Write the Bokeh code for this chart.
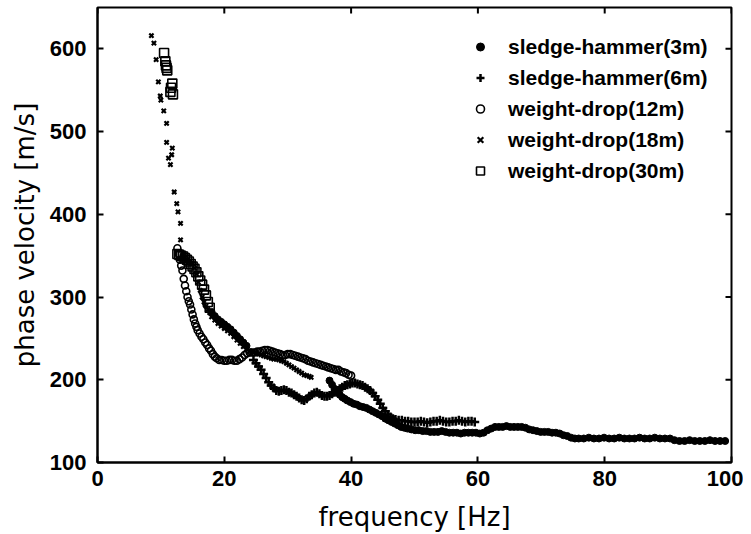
import math
from bokeh.plotting import figure
from bokeh.models import Legend, LegendItem, FixedTicker, Range1d
from bokeh.embed import file_html
from bokeh.resources import INLINE

# ---------------- data ----------------
x_ticks = [0, 20, 40, 60, 80, 100]
y_ticks = [100, 200, 300, 400, 500, 600]
x_lim = [0, 100]
y_lim = [100, 650]

labels = ["sledge-hammer(3m)", "sledge-hammer(6m)", "weight-drop(12m)",
          "weight-drop(18m)", "weight-drop(30m)"]

sh3_f = [18.0, 18.5, 19.0, 19.5, 20.0, 20.5, 21.0, 21.5, 22.0, 22.5, 23.0, 23.5,
         36.6, 37.0, 37.4, 37.8, 38.2, 38.6, 39.0, 39.4, 39.9, 40.4, 40.9, 41.4, 41.9, 42.4,
         42.9, 43.4, 43.9, 44.4, 44.9, 45.4, 45.9, 46.4, 46.9, 47.4, 47.9, 48.4, 48.9, 49.5,
         50.1, 50.7, 51.3, 51.9, 52.5, 53.1, 53.7, 54.3, 54.9, 55.5, 56.1, 56.7, 57.3, 57.9,
         58.5, 59.1, 59.7, 60.3, 60.9, 61.5, 62.1, 62.7, 63.3, 63.9, 64.5, 65.1, 65.7, 66.3,
         66.9, 67.5, 68.1, 68.7, 69.3, 69.9, 70.5, 71.1, 71.7, 72.3, 72.9, 73.5, 74.1, 74.7,
         75.3, 75.9, 76.7, 77.5, 78.3, 79.1, 79.9, 80.7, 81.5, 82.3, 83.1, 83.9, 84.7, 85.5,
         86.3, 87.1, 87.9, 88.7, 89.5, 90.3, 91.0, 91.8, 92.6, 93.4, 94.2, 95.0, 95.8, 96.6,
         97.4, 98.2, 99.0]
sh3_v = [282, 277, 273, 270, 267, 264, 261, 257, 253, 249, 245, 241,
         199, 194, 189, 185, 182, 179, 177, 175, 173, 171, 170, 168, 167, 166,
         164, 162, 160, 158, 156, 153, 151, 149, 147, 145, 143, 142, 141, 140,
         139, 139, 138, 138, 137, 137, 137, 138, 137, 136, 136, 136, 135, 136,
         136, 136, 136, 135, 136, 139, 141, 143, 143, 143, 144, 143, 143, 143,
         143, 142, 140, 139, 138, 137, 137, 137, 136, 136, 135, 133, 132, 130,
         129, 129, 129, 130, 129, 129, 130, 129, 129, 130, 129, 129, 129, 130,
         129, 129, 130, 129, 129, 129, 127, 126, 126, 127, 126, 126, 126, 127,
         126, 126, 126]

sh6_f = [24.6, 25.0, 25.4, 25.8, 26.2, 26.6, 27.0, 27.4, 27.8, 28.2, 28.6, 29.0, 29.4, 29.8,
         30.2, 30.6, 31.0, 31.4, 31.8, 32.2, 32.6, 33.0, 33.4, 33.8, 34.2, 34.6, 35.0, 35.4,
         35.8, 36.2, 36.6, 37.0, 37.4, 37.8, 38.2, 38.6, 39.0, 39.4, 39.8, 40.2, 40.6, 41.0,
         41.4, 41.8, 42.2, 42.6, 43.0, 43.4, 43.8, 44.2, 44.6, 45.0, 45.4, 45.8, 46.2, 46.6,
         47.0, 47.5, 48.0, 48.5, 49.0, 49.5, 50.0, 50.5, 51.0, 51.5, 52.0, 52.5, 53.0, 53.5,
         54.0, 54.5, 55.0, 55.5, 56.0, 56.5, 57.0, 57.5, 58.0, 58.5, 59.0, 59.5]
sh6_v = [224, 220, 216, 212, 207, 202, 197, 193, 190, 187, 186, 187, 188, 187,
         185, 184, 182, 180, 178, 176, 175, 177, 180, 182, 184, 185, 183, 181,
         180, 180, 181, 183, 185, 187, 189, 191, 193, 194, 195, 196, 196, 195,
         194, 193, 191, 189, 187, 184, 180, 176, 171, 166, 162, 158, 155, 153,
         152, 151, 151, 150, 150, 149, 149, 149, 150, 149, 148, 149, 150, 150,
         151, 150, 149, 149, 150, 150, 151, 150, 149, 150, 150, 149]

wd12_f = [12.6, 12.8, 13.0, 13.2, 13.4, 13.6, 13.8, 14.0, 14.2, 14.4, 14.6, 14.8, 15.0, 15.2,
          15.4, 15.6, 15.8, 16.1, 16.4, 16.7, 17.0, 17.3, 17.6, 17.9, 18.2, 18.5, 18.8, 19.2,
          19.6, 20.0, 20.4, 20.8, 21.2, 21.6, 22.0, 22.4, 22.8, 23.2, 23.6, 24.0, 24.4, 24.8,
          25.2, 25.6, 26.0, 26.4, 26.8, 27.2, 27.6, 28.0, 28.4, 28.8, 29.2, 29.6, 30.0, 30.4,
          30.8, 31.2, 31.6, 32.0, 32.4, 32.8, 33.2, 33.6, 34.0, 34.4, 34.8, 35.2, 35.6, 36.0,
          36.4, 36.8, 37.2, 37.6, 38.0, 38.4, 38.8, 39.2, 39.6, 40.0]
wd12_v = [359, 352, 345, 338, 332, 322, 314, 307, 300, 295, 291, 285, 279, 273,
          268, 264, 260, 256, 252, 249, 245, 242, 238, 235, 231, 228, 226, 224,
          224, 223, 223, 224, 224, 223, 223, 225, 227, 230, 232, 233, 233, 233,
          234, 234, 235, 236, 236, 235, 234, 233, 232, 231, 230, 230, 231, 231,
          230, 229, 228, 227, 226, 225, 223, 222, 221, 220, 219, 218, 217, 216,
          215, 214, 213, 212, 212, 210, 209, 208, 206, 205]

wd18_f = [8.5, 8.9, 9.25, 9.6, 9.9, 10.0, 10.45, 10.9, 10.9, 11.2, 11.5, 11.7, 11.8, 12.1,
          12.5, 12.7, 13.1, 13.1, 13.5, 13.8, 14.1, 14.4, 14.7, 15.0, 15.3, 15.6, 15.9, 16.2,
          16.5, 16.8, 17.1, 17.4, 17.7, 18.0, 18.5, 19.0, 19.5, 20.0, 20.5, 21.0, 21.5, 22.0,
          22.5, 23.0, 23.5, 24.0, 24.3, 24.6, 25.0, 25.4, 25.8, 26.2, 26.6, 27.0, 27.4, 27.8,
          28.2, 28.6, 29.0, 29.4, 29.8, 30.2, 30.6, 31.0, 31.4, 31.8, 32.2, 32.6, 33.0, 33.4,
          33.7]
wd18_v = [616, 607, 587, 560, 543, 538, 525, 510, 487, 468, 460, 472, 480, 427,
          413, 403, 389, 369, 352, 348, 345, 343, 341, 340, 335, 328, 318, 308,
          300, 294, 289, 285, 281, 276, 272, 268, 265, 262, 259, 256, 252, 248,
          244, 240, 237, 235, 234, 233, 232, 231, 230, 229, 228, 227, 226, 225,
          225, 224, 223, 222, 220, 218, 216, 214, 212, 210, 208, 206, 205, 204,
          203]

wd30_f = [10.5, 10.7, 10.8, 10.9, 11.0, 11.5, 11.6, 11.8, 11.9, 12.6, 12.9, 13.2, 13.5, 13.8,
          14.1, 14.4, 14.7, 15.0, 15.3, 15.6, 15.9, 16.2, 16.5, 16.8, 17.1, 17.4, 17.7]
wd30_v = [595, 585, 580, 577, 574, 548, 553, 558, 545, 352, 351, 350, 349, 347,
          345, 343, 340, 337, 334, 330, 325, 320, 315, 309, 302, 294, 287]

# ---------------- figure ----------------
p = figure(frame_width=634, frame_height=455,
           x_range=Range1d(*x_lim), y_range=Range1d(*y_lim),
           output_backend="svg", toolbar_location=None,
           min_border_left=97, min_border_right=12, min_border_top=7, min_border_bottom=72,
           background_fill_color="white", border_fill_color="white")
p.xgrid.visible = False
p.ygrid.visible = False
p.outline_line_color = "black"
p.outline_line_width = 2

TICK_FONT = "Liberation Sans"
LABEL_FONT = "DejaVu Sans"

xa = p.xaxis[0]
ya = p.yaxis[0]
for ax, ticks in ((xa, x_ticks), (ya, y_ticks)):
    ax.ticker = FixedTicker(ticks=ticks)
    ax.major_tick_in = 6
    ax.major_tick_out = 0
    ax.major_tick_line_width = 2
    ax.major_tick_line_color = "black"
    ax.minor_tick_line_color = None
    ax.axis_line_color = "black"
    ax.axis_line_width = 2
    ax.major_label_text_font = TICK_FONT
    ax.major_label_text_font_style = "bold"
    ax.major_label_text_font_size = "22px"
    ax.major_label_text_color = "black"
    ax.axis_label_text_font = LABEL_FONT
    ax.axis_label_text_font_style = "normal"
    ax.axis_label_text_font_size = "26px"
    ax.axis_label_text_color = "black"
xa.axis_label = "frequency [Hz]"
ya.axis_label = "phase velocity [m/s]"
xa.major_label_standoff = 8
ya.major_label_standoff = 11
xa.axis_label_standoff = 13
ya.axis_label_standoff = 7

# inward tick marks on the top and right frame edges (half of each dash is clipped by the frame)
p.scatter(x_ticks, [y_lim[1]] * len(x_ticks), marker="dash", angle=math.pi / 2,
          size=12, line_color="black", line_width=2)
p.scatter([x_lim[1]] * len(y_ticks), y_ticks, marker="dash",
          size=12, line_color="black", line_width=2)

# ---------------- series ----------------
r3 = p.scatter(sh3_f, sh3_v, marker="circle", size=7,
               fill_color="black", line_color="black", line_width=1)
r6 = p.scatter(sh6_f, sh6_v, marker="cross", size=9,
               line_color="black", line_width=2.5)
r12 = p.scatter(wd12_f, wd12_v, marker="circle", size=7,
                fill_color=None, line_color="black", line_width=1.6)
r18 = p.scatter(wd18_f, wd18_v, marker="x", size=6,
                line_color="black", line_width=2.2)
r30 = p.scatter(wd30_f, wd30_v, marker="square", size=9,
                fill_color=None, line_color="black", line_width=1.6)

legend = Legend(
    items=[LegendItem(label=labels[0], renderers=[r3]),
           LegendItem(label=labels[1], renderers=[r6]),
           LegendItem(label=labels[2], renderers=[r12]),
           LegendItem(label=labels[3], renderers=[r18]),
           LegendItem(label=labels[4], renderers=[r30])],
    location=(373, 278),
    padding=0, margin=0, spacing=4,
    glyph_width=20, glyph_height=27, label_height=27, label_standoff=18,
    label_text_font=TICK_FONT, label_text_font_style="bold",
    label_text_font_size="21px", label_text_color="black",
    border_line_color=None, background_fill_alpha=0,
)
p.add_layout(legend)

open("out.html", "w").write(file_html(p, INLINE))
